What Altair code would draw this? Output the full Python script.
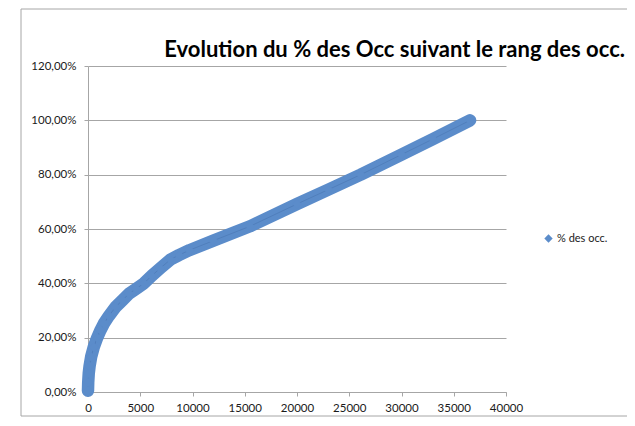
import altair as alt
import pandas as pd

# Values
rang = [0, 20, 70, 150, 300, 550, 880, 1200, 1520, 2000, 2640, 3300, 3930, 4600,
        5350, 6100, 6900, 7900, 8700, 9700, 12000, 15500, 20000, 23000, 26100,
        30000, 33000, 36560]
pct = [0.005, 0.035, 0.068, 0.095, 0.129, 0.165, 0.200, 0.228, 0.252, 0.280,
       0.313, 0.338, 0.362, 0.380, 0.400, 0.428, 0.455, 0.488, 0.504, 0.522,
       0.557, 0.610, 0.692, 0.745, 0.800, 0.874, 0.931, 1.000]
serie = "% des occ."
titre = "Evolution du % des Occ suivant le rang des occ."
y_ticks = [0, 0.2, 0.4, 0.6, 0.8, 1.0, 1.2]
x_ticks = [0, 5000, 10000, 15000, 20000, 25000, 30000, 35000, 40000]

df = pd.DataFrame({"rang": rang, "pct": pct, "serie": [serie] * len(rang)})

BLUE = "#5B8CCA"
FONT = "Lato"

x_enc = alt.X("rang:Q", scale=alt.Scale(domain=[0, 40000], nice=False),
              axis=alt.Axis(values=x_ticks, format="d", grid=False, title=None,
                            domain=True, domainColor="#A6A6A6", ticks=True,
                            tickColor="#A6A6A6", tickSize=4, labelPadding=6,
                            labelFlush=False, labelOverlap=False,
                            labelFont=FONT, labelFontSize=11.5, labelColor="#1A1A1A"))
y_enc = alt.Y("pct:Q", scale=alt.Scale(domain=[0, 1.2], nice=False),
              axis=alt.Axis(values=y_ticks, grid=True, gridColor="#A6A6A6",
                            title=None, domain=True, domainColor="#A6A6A6",
                            ticks=True, tickColor="#A6A6A6", tickSize=4,
                            labelPadding=8, labelFlush=False,
                            labelExpr="replace(format(datum.value, '.2%'), '.', ',')",
                            labelFont=FONT, labelFontSize=11.5, labelColor="#1A1A1A"))

band = alt.Chart(df).mark_line(color=BLUE, strokeWidth=12.5, strokeCap="round",
                               strokeJoin="round").encode(x=x_enc, y=y_enc)
core = alt.Chart(df).mark_line(color="#4A76B3", strokeWidth=1, opacity=0.6).encode(
    x="rang:Q", y="pct:Q")
pts = alt.Chart(df).mark_point(shape="diamond", filled=True, size=90, opacity=1).encode(
    x="rang:Q", y="pct:Q",
    color=alt.Color("serie:N", scale=alt.Scale(domain=[serie], range=[BLUE]),
                    legend=alt.Legend(title=None, orient="none", legendX=455,
                                      legendY=167, symbolType="diamond",
                                      symbolSize=70, labelFont=FONT,
                                      labelFontSize=11, labelColor="#1A1A1A",
                                      labelOffset=3)))

one = pd.DataFrame({"t": [titre]})
frame = alt.Chart(one).mark_rect(
    fill=None, stroke="#A6A6A6", strokeWidth=1).encode(
    x=alt.value(-67), x2=alt.value(543), y=alt.value(-57), y2=alt.value(350))
title = alt.Chart(one).mark_text(
    align="right", baseline="alphabetic", font=FONT, fontSize=22,
    fontWeight="bold", color="#000000").encode(
    x=alt.value(537), y=alt.value(-9), text="t:N")

chart = alt.layer(frame, band, core, pts, title).properties(
    width=418, height=326,
    padding={"left": 80, "top": 58, "right": 121, "bottom": 26},
    autosize=alt.AutoSizeParams(type="none"),
).configure_view(stroke=None)

chart.save("out.html", embed_options={"renderer": "svg", "actions": False})
